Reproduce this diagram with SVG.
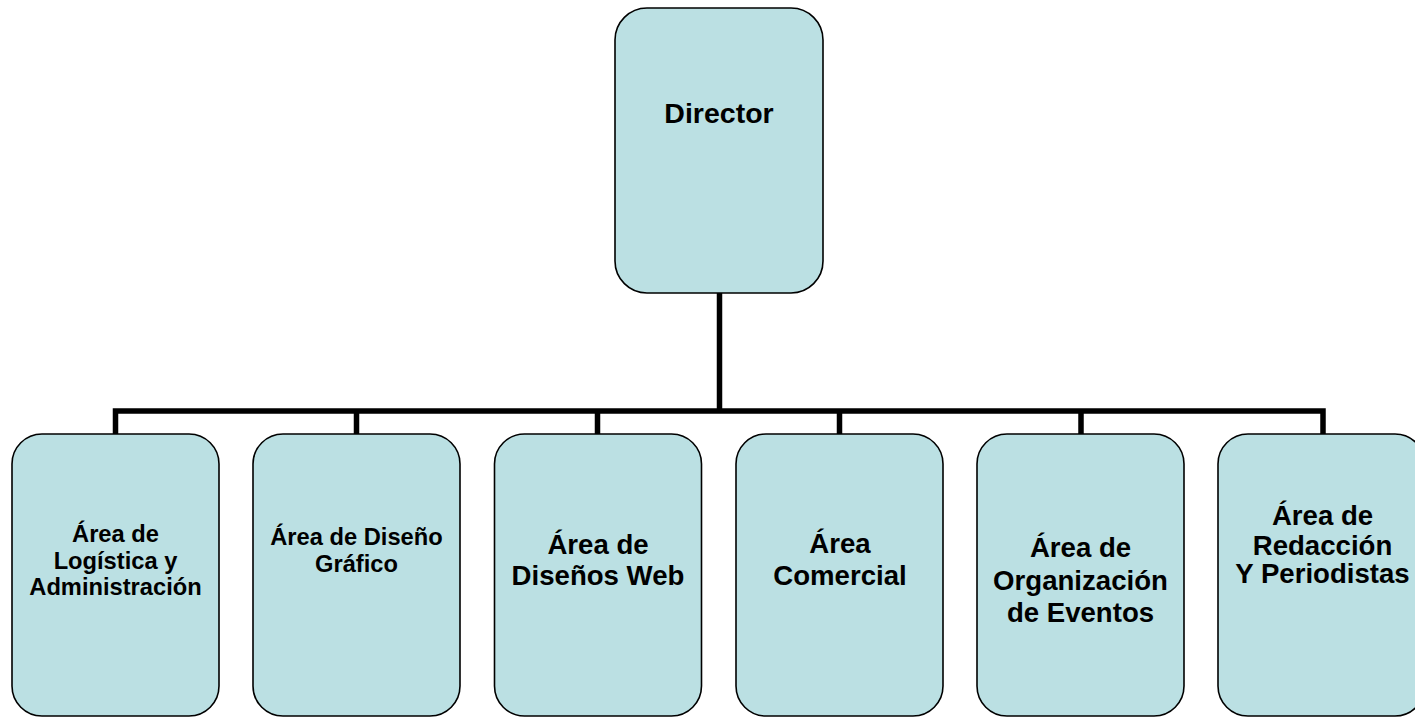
<svg xmlns="http://www.w3.org/2000/svg" width="1415" height="717" viewBox="0 0 1415 717">
<style>
.box{fill:#BBE0E3;stroke:#000;stroke-width:1.6}
.t{font-family:"Liberation Sans",Arial,sans-serif;font-weight:bold;fill:#000;text-anchor:middle}
.s{font-size:23.7px}
.m{font-size:27.6px}
.l{font-size:28.5px}
.c{fill:none;stroke:#000;stroke-width:5.5;stroke-linejoin:miter}
</style>
<rect width="1415" height="717" fill="#fff"/>
<g id="connectors">
<path class="c" d="M719.5 293 V411"/>
<path class="c" d="M115.5 434 V411 H1323 V434"/>
<path class="c" d="M356.5 411 V434 M597.5 411 V434 M839.5 411 V434 M1081 411 V434"/>
</g>
<g id="director">
<rect class="box" x="615" y="8" width="208" height="285" rx="32" ry="32"/>
<text class="t l" x="719" y="123">Director</text>
</g>
<g id="logistica">
<rect class="box" x="12" y="434" width="207" height="282" rx="30" ry="30"/>
<text class="t s" x="115.5" y="542">Área de</text>
<text class="t s" x="115.5" y="568.5">Logística y</text>
<text class="t s" x="115.5" y="595">Administración</text>
</g>
<g id="diseno-grafico">
<rect class="box" x="253" y="434" width="207" height="282" rx="30" ry="30"/>
<text class="t s" x="356.5" y="545">Área de Diseño</text>
<text class="t s" x="356.5" y="572">Gráfico</text>
</g>
<g id="disenos-web">
<rect class="box" x="494.5" y="434" width="207" height="282" rx="30" ry="30"/>
<text class="t m" x="598" y="554">Área de</text>
<text class="t m" x="598" y="585">Diseños Web</text>
</g>
<g id="comercial">
<rect class="box" x="736" y="434" width="207" height="282" rx="30" ry="30"/>
<text class="t m" x="840" y="553">Área</text>
<text class="t m" x="840" y="585">Comercial</text>
</g>
<g id="eventos">
<rect class="box" x="977" y="434" width="207" height="282" rx="30" ry="30"/>
<text class="t m" x="1080.5" y="557">Área de</text>
<text class="t m" x="1080.5" y="589.5">Organización</text>
<text class="t m" x="1080.5" y="621.5">de Eventos</text>
</g>
<g id="redaccion">
<rect class="box" x="1218" y="434" width="207" height="282" rx="30" ry="30"/>
<text class="t m" x="1322.5" y="525">Área de</text>
<text class="t m" x="1322.5" y="555">Redacción</text>
<text class="t m" x="1322.5" y="583">Y Periodistas</text>
</g>
</svg>
